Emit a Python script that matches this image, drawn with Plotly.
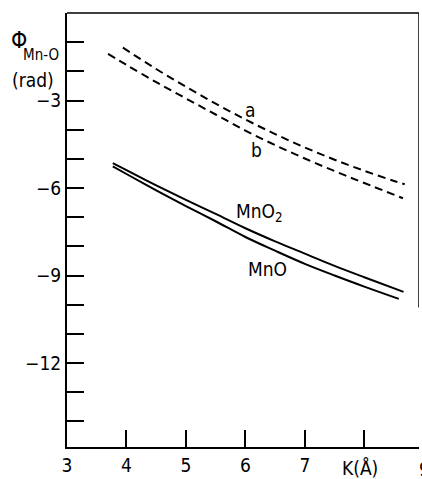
import plotly.graph_objects as go

# Curve a (dashed, upper)
a_k = [3.94, 4.5, 5.0, 5.5, 6.0, 6.5, 7.0, 7.5, 8.0, 8.5, 8.68]
a_phi = [-1.19, -1.92, -2.53, -3.11, -3.65, -4.15, -4.61, -5.03, -5.41, -5.76, -5.87]
# Curve b (dashed, lower)
b_k = [3.69, 4.0, 4.5, 5.0, 5.5, 6.0, 6.5, 7.0, 7.5, 8.0, 8.65]
b_phi = [-1.40, -1.78, -2.37, -2.93, -3.48, -4.03, -4.53, -4.99, -5.42, -5.83, -6.35]
# MnO2 (solid, upper)
mno2_k = [3.77, 4.0, 4.5, 5.0, 5.5, 6.0, 6.5, 7.0, 7.5, 8.0, 8.66]
mno2_phi = [-5.15, -5.39, -5.91, -6.41, -6.89, -7.38, -7.83, -8.25, -8.67, -9.06, -9.56]
# MnO (solid, lower)
mno_k = [3.77, 4.0, 4.5, 5.0, 5.5, 6.0, 6.5, 7.0, 7.5, 8.0, 8.58]
mno_phi = [-5.26, -5.52, -6.08, -6.62, -7.14, -7.68, -8.15, -8.60, -9.00, -9.38, -9.80]

x_tickvals = [3, 4, 5, 6, 7]
x_ticktext = ["3", "4", "5", "6", "7"]
y_tickvals = [-3, -6, -9, -12]
y_ticktext = ["\u22123", "\u22126", "\u22129", "\u221212"]

FONT = "DejaVu Sans Condensed, Liberation Sans Narrow, Arial Narrow, sans-serif"

fig = go.Figure()
dash = "8px,5px"
fig.add_trace(go.Scatter(x=a_k, y=a_phi, mode="lines", line=dict(color="black", width=2, dash=dash, shape="spline")))
fig.add_trace(go.Scatter(x=b_k, y=b_phi, mode="lines", line=dict(color="black", width=2, dash=dash, shape="spline")))
fig.add_trace(go.Scatter(x=mno2_k, y=mno2_phi, mode="lines", line=dict(color="black", width=2, shape="spline")))
fig.add_trace(go.Scatter(x=mno_k, y=mno_phi, mode="lines", line=dict(color="black", width=2, shape="spline")))

ann = []
def add(text, x, y, size=19, xref="x", yref="y", **kw):
    ann.append(dict(text=text, x=x, y=y, xref=xref, yref=yref, showarrow=False,
                    font=dict(family=FONT, size=size, color="black"), **kw))

add("a", 6.08, -3.31)
add("b", 6.19, -4.68)
add("MnO<sub>2</sub>", 6.24, -6.85)
add("MnO", 6.37, -8.77)
add("\u03a6", 0, -0.92, size=23, xref="paper", xanchor="right", xshift=-38)
add("Mn-O", 0, -1.45, size=15, xref="paper", xanchor="right", xshift=-6)
add("(rad)", 0, -2.29, size=19, xref="paper", xanchor="right", xshift=-11)
add("K(\u00c5)", 7.92, -0.018, size=19, yref="paper", yanchor="top")
add("9", 1, -0.02, size=19, xref="paper", yref="paper", yanchor="top", xanchor="center", xshift=5)

fig.update_layout(
    width=422, height=479,
    margin=dict(l=67, r=3, t=13, b=30),
    paper_bgcolor="white", plot_bgcolor="white",
    showlegend=False,
    font=dict(family=FONT, size=19, color="black"),
    annotations=ann,
    shapes=[dict(type="line", xref="x", yref="y", x0=8.92, x1=8.92, y0=0, y1=-10.1,
                 line=dict(color="black", width=1.5))],
)
fig.update_xaxes(range=[3, 8.92], tickvals=x_tickvals, ticktext=x_ticktext,
                 ticks="inside", ticklen=17, tickwidth=1.5, tickcolor="black",
                 minor=dict(tick0=3, dtick=1, ticks="inside", ticklen=17, tickwidth=1.5, tickcolor="black"),
                 showline=True, linecolor="black", linewidth=2, mirror=False,
                 showgrid=False, zeroline=False, tickfont=dict(size=19))
fig.update_yaxes(range=[-14.88, 0], tickvals=y_tickvals, ticktext=y_ticktext,
                 ticks="inside", ticklen=17, tickwidth=1.5, tickcolor="black",
                 minor=dict(tick0=0, dtick=1, ticks="inside", ticklen=17, tickwidth=1.5, tickcolor="black"),
                 showline=True, linecolor="black", linewidth=2, mirror=False,
                 showgrid=False, zeroline=False, tickfont=dict(size=19))
# top border
fig.add_shape(type="line", xref="paper", yref="paper", x0=0, x1=1, y0=1, y1=1,
              line=dict(color="black", width=1.5))

fig.write_html("out.html")
